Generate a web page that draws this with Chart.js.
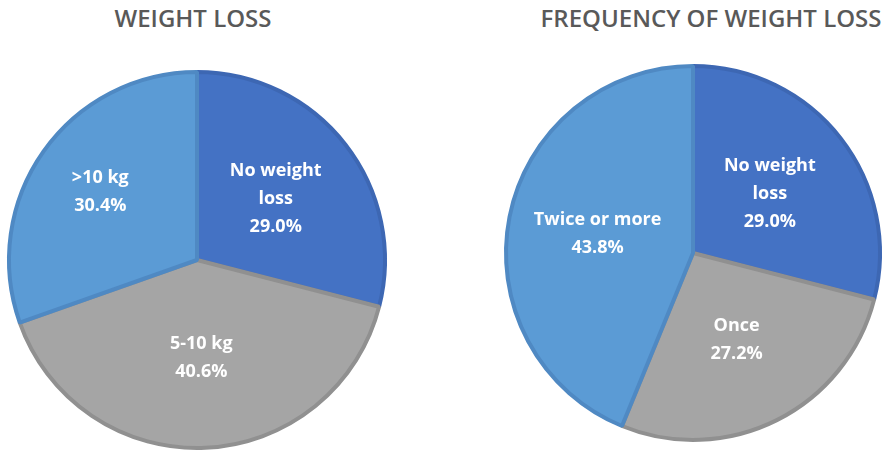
<!DOCTYPE html>
<html>
<head>
<meta charset="utf-8">
<script src="https://cdn.jsdelivr.net/npm/chart.js@4/dist/chart.umd.min.js"></script>
<style>
  html, body { margin: 0; padding: 0; background: #ffffff; overflow: hidden; }
  #stage { position: relative; width: 894px; height: 451px; }
  .title {
    position: absolute; top: 1px; white-space: nowrap;
    font-family: "Open Sans", sans-serif; font-weight: 600; font-size: 24px;
    color: #595959; transform: translateX(-50%);
  }
  .box { position: absolute; }
  canvas { display: block; }
</style>
</head>
<body>
<div id="stage">
  <div class="title" style="left:193px">WEIGHT LOSS</div>
  <div class="title" style="left:711px">FREQUENCY OF WEIGHT LOSS</div>
  <div class="box" style="left:2px; top:65px; width:390px; height:390px"><canvas id="pieAmount"></canvas></div>
  <div class="box" style="left:499px; top:59px; width:388px; height:388px"><canvas id="pieFrequency"></canvas></div>
</div>
<script>
// Weight loss amount
const amountCategories = [['No weight', 'loss'], ['5-10 kg'], ['>10 kg']];
const amountValues = [29.0, 40.6, 30.4];

// Frequency of weight loss
const frequencyCategories = [['No weight', 'loss'], ['Once'], ['Twice or more']];
const frequencyValues = [29.0, 27.2, 43.8];

const fills = ['#4472C4', '#A5A5A5', '#5B9BD5'];
const edges = ['#3D67B3', '#909090', '#4F89C3'];

// Writes "category / value%" inside each slice, centred on the slice's mid-angle
const sliceLabels = {
  id: 'sliceLabels',
  afterDatasetsDraw(chart, args, opts) {
    const ctx = chart.ctx;
    const meta = chart.getDatasetMeta(0);
    const ds = chart.data.datasets[0];
    ctx.save();
    ctx.fillStyle = '#ffffff';
    ctx.font = 'bold 18px "Open Sans", sans-serif';
    ctx.textAlign = 'center';
    ctx.textBaseline = 'middle';
    meta.data.forEach((arc, i) => {
      const p = arc.getProps(['x', 'y', 'startAngle', 'endAngle', 'outerRadius'], true);
      const mid = (p.startAngle + p.endAngle) / 2;
      const r = p.outerRadius * (opts.radius[i]);
      const cx = p.x + Math.cos(mid) * r;
      const cy = p.y + Math.sin(mid) * r;
      const lines = [].concat(chart.data.labels[i], ds.data[i].toFixed(1) + '%');
      const lh = 28;
      const top = cy - (lines.length - 1) * lh / 2;
      lines.forEach((t, k) => ctx.fillText(t, cx, top + k * lh));
    });
    ctx.restore();
  }
};

function makePie(id, categories, values, radius) {
  return new Chart(document.getElementById(id), {
    type: 'pie',
    data: {
      labels: categories,
      datasets: [{
        data: values,
        backgroundColor: fills,
        borderColor: edges,
        borderWidth: 4,
        hoverOffset: 0
      }]
    },
    options: {
      responsive: true,
      maintainAspectRatio: false,
      animation: false,
      layout: { padding: 5 },
      events: [],
      plugins: {
        legend: { display: false },
        tooltip: { enabled: false },
        title: { display: false },
        sliceLabels: { radius }
      }
    },
    plugins: [sliceLabels]
  });
}

makePie('pieAmount', amountCategories, amountValues, [0.53, 0.52, 0.63]);
makePie('pieFrequency', frequencyCategories, frequencyValues, [0.52, 0.52, 0.52]);
</script>
</body>
</html>
